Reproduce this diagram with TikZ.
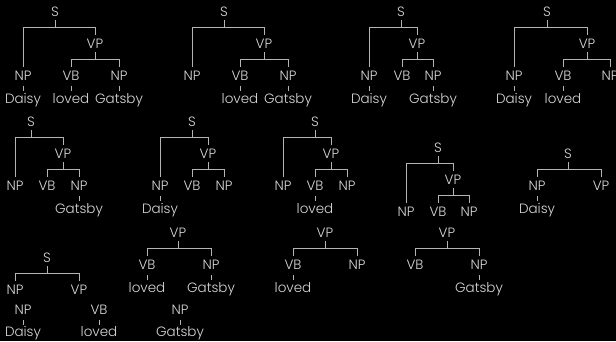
\documentclass[tikz,border=0pt]{standalone}
\usepackage{fontspec}
\setmainfont{Poppins Light}
\usetikzlibrary{calc}
\definecolor{txt}{HTML}{D8D8D8}
\definecolor{ln}{HTML}{B4B4B4}
\tikzset{
  cat/.style={anchor=base, inner sep=0pt, text=txt, font=\fontsize{13.5}{14}\selectfont, text height=10pt, text depth=0pt},
  word/.style={anchor=base, inner sep=0pt, text=txt, font=\fontsize{13.5}{14}\selectfont},
  edge/.style={draw=ln, line width=0.9pt},
}
% parent with two daughters: stem, bar, and two drops
\newcommand\branch[3]{%
  \draw[edge] ($(#1.south)+(0,4)$) -- ($(#1.south)+(0,11)$);
  \draw[edge] ($(#2.north)+(0,-3)$) |- ($(#1.south)+(0,11)$) -| ($(#3.north)+(0,-3)$);
}
% preterminal to word: short tick
\newcommand\leaf[1]{%
  \draw[edge] ($(#1.south)+(0,6)$) -- ($(#1.south)+(0,11)$);
}
\begin{document}
\begin{tikzpicture}[x=1pt,y=-1pt]
\fill[black] (0,0) rectangle (616,341);
\useasboundingbox (0,0) rectangle (616,341);

% ---- tree 1
\node[cat] (a-s) at (55,16) {S};
\node[cat] (a-np) at (23,80) {NP};
\node[cat] (a-vp) at (95,48) {VP};
\node[cat] (a-vb) at (71,80) {VB};
\node[cat] (a-np2) at (119,80) {NP};
\node[word] (a-w1) at (23,103) {Daisy};
\node[word] (a-w2) at (71,103) {loved};
\node[word] (a-w3) at (119,103) {Gatsby};
\branch{a-s}{a-np}{a-vp}
\branch{a-vp}{a-vb}{a-np2}
\leaf{a-np}\leaf{a-vb}\leaf{a-np2}

% ---- tree 2
\node[cat] (b-s) at (224,16) {S};
\node[cat] (b-np) at (192,80) {NP};
\node[cat] (b-vp) at (264,48) {VP};
\node[cat] (b-vb) at (240,80) {VB};
\node[cat] (b-np2) at (288,80) {NP};
\node[word] (b-w2) at (240,103) {loved};
\node[word] (b-w3) at (288,103) {Gatsby};
\branch{b-s}{b-np}{b-vp}
\branch{b-vp}{b-vb}{b-np2}
\leaf{b-vb}\leaf{b-np2}

% ---- tree 3
\node[cat] (c-s) at (401,16) {S};
\node[cat] (c-np) at (369,80) {NP};
\node[cat] (c-vp) at (417,48) {VP};
\node[cat] (c-vb) at (402,80) {VB};
\node[cat] (c-np2) at (433,80) {NP};
\node[word] (c-w1) at (369,103) {Daisy};
\node[word] (c-w3) at (433,103) {Gatsby};
\branch{c-s}{c-np}{c-vp}
\branch{c-vp}{c-vb}{c-np2}
\leaf{c-np}\leaf{c-np2}

% ---- tree 4
\node[cat] (d-s) at (547,16) {S};
\node[cat] (d-np) at (514,80) {NP};
\node[cat] (d-vp) at (587,48) {VP};
\node[cat] (d-vb) at (563,80) {VB};
\node[cat] (d-np2) at (610,80) {NP};
\node[word] (d-w1) at (514,103) {Daisy};
\node[word] (d-w2) at (563,103) {loved};
\branch{d-s}{d-np}{d-vp}
\branch{d-vp}{d-vb}{d-np2}
\leaf{d-np}\leaf{d-vb}

% ---- tree 5
\node[cat] (e-s) at (31,126) {S};
\node[cat] (e-np) at (15,190) {NP};
\node[cat] (e-vp) at (63,158) {VP};
\node[cat] (e-vb) at (47,190) {VB};
\node[cat] (e-np2) at (79,190) {NP};
\node[word] (e-w3) at (79,213) {Gatsby};
\branch{e-s}{e-np}{e-vp}
\branch{e-vp}{e-vb}{e-np2}
\leaf{e-np2}

% ---- tree 6
\node[cat] (f-s) at (192,126) {S};
\node[cat] (f-np) at (160,190) {NP};
\node[cat] (f-vp) at (208,158) {VP};
\node[cat] (f-vb) at (192,190) {VB};
\node[cat] (f-np2) at (224,190) {NP};
\node[word] (f-w1) at (160,213) {Daisy};
\branch{f-s}{f-np}{f-vp}
\branch{f-vp}{f-vb}{f-np2}
\leaf{f-np}

% ---- tree 7
\node[cat] (g-s) at (315,126) {S};
\node[cat] (g-np) at (283,190) {NP};
\node[cat] (g-vp) at (331,158) {VP};
\node[cat] (g-vb) at (315,190) {VB};
\node[cat] (g-np2) at (347,190) {NP};
\node[word] (g-w2) at (315,213) {loved};
\branch{g-s}{g-np}{g-vp}
\branch{g-vp}{g-vb}{g-np2}
\leaf{g-vb}

% ---- tree 8
\node[cat] (h-s) at (438,152) {S};
\node[cat] (h-np) at (406,216) {NP};
\node[cat] (h-vp) at (453,184) {VP};
\node[cat] (h-vb) at (438,216) {VB};
\node[cat] (h-np2) at (469,216) {NP};
\branch{h-s}{h-np}{h-vp}
\branch{h-vp}{h-vb}{h-np2}

% ---- tree 9
\node[cat] (i-s) at (568,158) {S};
\node[cat] (i-np) at (537,190) {NP};
\node[cat] (i-vp) at (601,190) {VP};
\node[word] (i-w1) at (537,213) {Daisy};
\branch{i-s}{i-np}{i-vp}
\leaf{i-np}

% ---- tree 10 and loose pieces
\node[cat] (j-s) at (47,262) {S};
\node[cat] (j-np) at (15,294) {NP};
\node[cat] (j-vp) at (79,294) {VP};
\branch{j-s}{j-np}{j-vp}
\node[cat] (j-np3) at (23,314) {NP};
\node[word] (j-w1) at (23,336) {Daisy};
\leaf{j-np3}
\node[cat] (j-vb3) at (99,314) {VB};
\node[word] (j-w2) at (99,336) {loved};
\leaf{j-vb3}

% ---- tree 11 and loose piece
\node[cat] (k-vp) at (178,237) {VP};
\node[cat] (k-vb) at (147,269) {VB};
\node[cat] (k-np) at (211,269) {NP};
\node[word] (k-w2) at (147,292) {loved};
\node[word] (k-w3) at (211,292) {Gatsby};
\branch{k-vp}{k-vb}{k-np}
\leaf{k-vb}\leaf{k-np}
\node[cat] (k-np3) at (180,314) {NP};
\node[word] (k-w4) at (180,336) {Gatsby};
\leaf{k-np3}

% ---- tree 12
\node[cat] (l-vp) at (325,237) {VP};
\node[cat] (l-vb) at (293,269) {VB};
\node[cat] (l-np) at (357,269) {NP};
\node[word] (l-w2) at (293,292) {loved};
\branch{l-vp}{l-vb}{l-np}
\leaf{l-vb}

% ---- tree 13
\node[cat] (m-vp) at (447,237) {VP};
\node[cat] (m-vb) at (415,269) {VB};
\node[cat] (m-np) at (479,269) {NP};
\node[word] (m-w3) at (479,292) {Gatsby};
\branch{m-vp}{m-vb}{m-np}
\leaf{m-np}
\end{tikzpicture}
\end{document}
